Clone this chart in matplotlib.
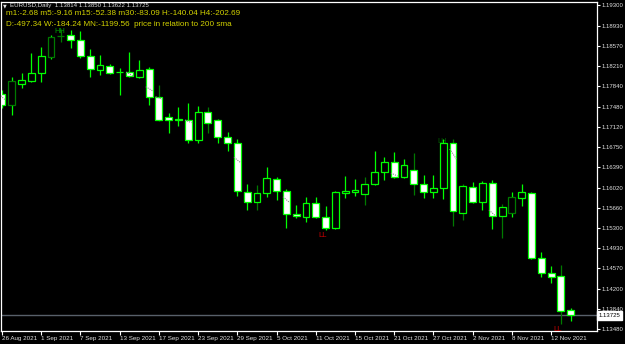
import matplotlib
matplotlib.use("Agg")
import matplotlib.pyplot as plt
import matplotlib.transforms as mtransforms

plt.rcParams['font.family'] = ['Liberation Sans', 'DejaVu Sans']

# ---------------- data ----------------
symbol = "EURUSD,Daily"

opens = [1.17705, 1.17507, 1.17885, 1.17939, 1.18082, 1.18376, 1.18750, 1.18766, 1.18676, 1.18388,
         1.18136, 1.18214, 1.18106, 1.18100, 1.18011, 1.18149, 1.17656, 1.17286, 1.17250, 1.17237,
         1.16878, 1.17376, 1.17243, 1.16932, 1.16819, 1.15952, 1.15758, 1.15920, 1.16171, 1.15955,
         1.15547, 1.15502, 1.15740, 1.15499, 1.15290, 1.15930, 1.15948, 1.15902, 1.16081, 1.16308,
         1.16477, 1.16218, 1.16338, 1.16087, 1.15948, 1.16009, 1.16819, 1.15571, 1.16038, 1.15768,
         1.16099, 1.15517, 1.15560, 1.15840, 1.15930, 1.14762, 1.14481, 1.14438, 1.13814]
highs = [1.17777, 1.18011, 1.18082, 1.18442, 1.18550, 1.18766, 1.18874, 1.18856, 1.18838, 1.18514,
         1.18406, 1.18244, 1.18172, 1.18460, 1.18316, 1.18196, 1.17867, 1.17363, 1.17477, 1.17549,
         1.17489, 1.17471, 1.17250, 1.17027, 1.16896, 1.16083, 1.16069, 1.16387, 1.16207, 1.15991,
         1.15709, 1.15848, 1.15848, 1.15691, 1.15961, 1.16231, 1.16177, 1.16218, 1.16685, 1.16578,
         1.16667, 1.16536, 1.16650, 1.16249, 1.16249, 1.16896, 1.16896, 1.16081, 1.16128, 1.16141,
         1.16159, 1.15727, 1.15948, 1.16081, 1.15935, 1.14859, 1.14612, 1.14630, 1.13850]
lows = [1.17453, 1.17327, 1.17813, 1.17921, 1.17921, 1.18334, 1.18640, 1.18532, 1.18352, 1.18011,
        1.18047, 1.18065, 1.17687, 1.18011, 1.17993, 1.17507, 1.17219, 1.17004, 1.17130, 1.16829,
        1.16819, 1.16998, 1.16829, 1.16680, 1.15876, 1.15619, 1.15619, 1.15858, 1.15799, 1.15290,
        1.15470, 1.15409, 1.15470, 1.15260, 1.15272, 1.15830, 1.15871, 1.15704, 1.16069, 1.16159,
        1.16189, 1.16189, 1.15889, 1.15830, 1.15830, 1.15812, 1.15332, 1.15439, 1.15740, 1.15619,
        1.15272, 1.15110, 1.15488, 1.15691, 1.14738, 1.14420, 1.14312, 1.13570, 1.13622]
closes = [1.17507, 1.17939, 1.17957, 1.18082, 1.18388, 1.18735, 1.18745, 1.18676, 1.18388, 1.18154,
          1.18226, 1.18088, 1.18102, 1.18029, 1.18136, 1.17656, 1.17237, 1.17237, 1.17246, 1.16878,
          1.17376, 1.17178, 1.16937, 1.16819, 1.15966, 1.15758, 1.15920, 1.16189, 1.15966, 1.15547,
          1.15511, 1.15740, 1.15499, 1.15290, 1.15937, 1.15961, 1.15979, 1.16087, 1.16308, 1.16477,
          1.16218, 1.16428, 1.16087, 1.15948, 1.16009, 1.16819, 1.15607, 1.16051, 1.15768, 1.16099,
          1.15517, 1.15668, 1.15848, 1.15937, 1.14762, 1.14481, 1.14420, 1.13809, 1.13725]

date_labels = ['26 Aug 2021', '1 Sep 2021', '7 Sep 2021', '13 Sep 2021', '17 Sep 2021',
               '23 Sep 2021', '29 Sep 2021', '5 Oct 2021', '11 Oct 2021', '15 Oct 2021',
               '21 Oct 2021', '27 Oct 2021', '2 Nov 2021', '8 Nov 2021', '12 Nov 2021']
date_label_bars = [0, 4, 8, 12, 16, 20, 24, 28, 32, 36, 40, 44, 48, 52, 56]

price_ticks = [1.19300, 1.18930, 1.18570, 1.18210, 1.17840, 1.17480, 1.17120, 1.16750, 1.16390,
               1.16020, 1.15660, 1.15300, 1.14930, 1.14570, 1.14200, 1.13840, 1.13480]

line1 = "m1:-2.68 m5:-9.16 m15:-52.38 m30:-83.09 H:-140.04 H4:-202.69"
line2 = "D:-497.34 W:-184.24 MN:-1199.56  price in relation to 200 sma"

# candles drawn partly in dark green (overlay look)
dark_body_bars = [1, 5, 6, 52]
dark_wick_bars = [6, 16, 21, 26, 37, 42, 46, 47, 51, 57]

# zigzag labels: (bar, text, kind, colour)
zigzag_labels = [(6, 'HH', 'high', '#00a000'), (45, 'LH', 'high', '#006400'),
                 (33, 'LL', 'low', '#c80000'), (57, 'LL', 'low', '#c80000')]

# gray dotted diagonal marks (bar, price_start, price_end)
diag_marks = [(0, 1.17705, 1.17597), (13, 1.18100, 1.18034), (15, 1.17836, 1.17764),
              (16, 1.17656, 1.17610), (19, 1.17237, 1.17189), (24, 1.16567, 1.16470),
              (29, 1.15858, 1.15751), (40, 1.16284, 1.16230), (46, 1.16716, 1.16536),
              (50, 1.15619, 1.15511)]

# ---------------- figure ----------------
W, H = 625, 344
fig = plt.figure(figsize=(W / 100, H / 100), dpi=100, facecolor='black')
left_px, right_px, top_px, bottom_px = 1, 597, 2, 331
ax = fig.add_axes([left_px / W, (H - bottom_px) / H, (right_px - left_px) / W, (bottom_px - top_px) / H])
ax.set_facecolor('black')

LIME = '#00ff00'
DARK = '#007a00'
n = len(opens)
xs = list(range(n))

wick_cols = [DARK if i in dark_wick_bars else LIME for i in xs]
ax.vlines(xs, lows, highs, colors=wick_cols, linewidth=0.9, zorder=1)

bottoms = [min(o, c) for o, c in zip(opens, closes)]
heights = [max(abs(c - o), 0.00001) for o, c in zip(opens, closes)]
fills = ['black' if c > o else 'white' for o, c in zip(opens, closes)]
edges = [DARK if i in dark_body_bars else LIME for i in xs]
ax.bar(xs, heights, bottom=bottoms, width=0.70, color=fills, edgecolor=edges,
       linewidth=0.9, zorder=2)

for b, p1, p2 in diag_marks:
    ax.plot([b - 0.34, b + 0.34], [p1, p2], color='#8a8a8a', lw=0.8,
            ls=(0, (1, 1)), zorder=3)

# current price line
ax.axhline(closes[-1], color='#58606a', lw=1.0, zorder=0.5)

for b, txt, kind, col in zigzag_labels:
    if kind == 'high':
        ax.annotate(txt, (b, highs[b]), xytext=(-1, -3), textcoords='offset pixels',
                    ha='center', va='center', color=col, fontsize=5.4,
                    annotation_clip=False, zorder=0.8)
    else:
        ax.annotate(txt, (b, lows[b]), xytext=(-3, -6), textcoords='offset pixels',
                    ha='center', va='center', color=col, fontsize=5.6,
                    annotation_clip=False, zorder=4)

ax.set_xlim(-0.102, 60.68)
ax.set_ylim(1.13444, 1.19359)

for s in ax.spines.values():
    s.set_color('white')
    s.set_linewidth(0.9)

ax.yaxis.tick_right()
ax.set_yticks(price_ticks)
ax.set_yticklabels([f"{p:.5f}" for p in price_ticks])
ax.tick_params(axis='y', direction='out', length=2.5, width=0.8, color='white',
               labelcolor='#e0e0e0', labelsize=4.3, pad=0.8)

ax.set_xticks(date_label_bars)
ax.set_xticklabels(date_labels)
ax.tick_params(axis='x', direction='out', length=3, width=0.8, color='white',
               labelcolor='#e0e0e0', labelsize=4.5, pad=0.5)
for lab in ax.get_xticklabels():
    lab.set_ha('left')

# price box on the scale
trans = mtransforms.blended_transform_factory(ax.transAxes, ax.transData)
ax.text(1.003, closes[-1], f"{closes[-1]:.5f}", transform=trans, ha='left', va='center',
        fontsize=4.3, color='black',
        bbox=dict(facecolor='white', edgecolor='white', pad=0.3, boxstyle='square'),
        clip_on=False, zorder=5)

# header texts
def ftext(x, y, s, **kw):
    fig.text(x / W, 1 - y / H, s, va='center', ha='left', **kw)

ftext(3, 6, '\u25bc', color='#e0e0e0', fontsize=3.5, family=['DejaVu Sans'])
ftext(10, 6, f"{symbol}  {opens[-1]:.5f} {highs[-1]:.5f} {lows[-1]:.5f} {closes[-1]:.5f}",
      color='#e0e0e0', fontsize=4.4)
ftext(6.5, 13.5, line1, color='#d2d200', fontsize=5.9)
ftext(6.5, 25.0, line2, color='#d2d200', fontsize=5.9)

fig.savefig('out.png', dpi=100, facecolor='black')
